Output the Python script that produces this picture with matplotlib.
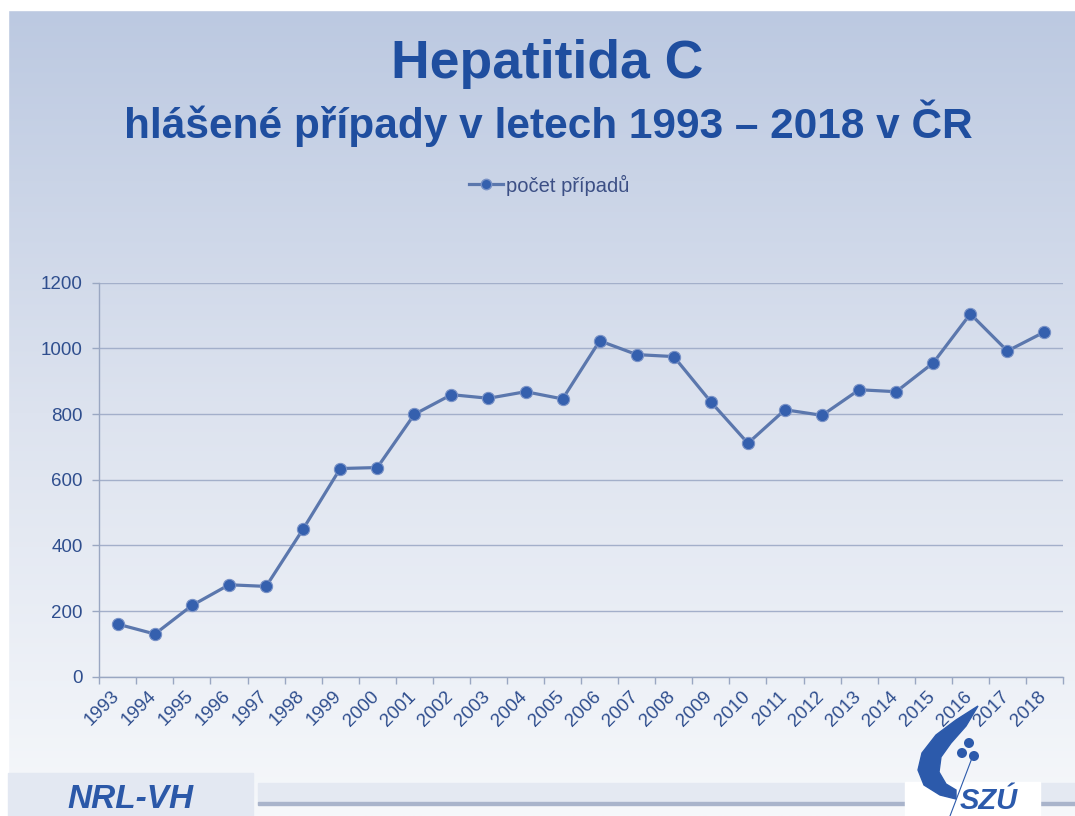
import numpy as np
import matplotlib
matplotlib.use("Agg")
import matplotlib.pyplot as plt
from matplotlib.patches import Rectangle, Polygon, Circle
from matplotlib.lines import Line2D
import matplotlib.transforms as mtransforms

years = [str(y) for y in range(1993, 2019)]
cases = [160, 130, 217, 280, 275, 450, 634, 637, 799, 859, 848, 868, 846,
         1023, 981, 975, 837, 711, 813, 796, 874, 868, 956, 1105, 992, 1050]
yticks = [0, 200, 400, 600, 800, 1000, 1200]
series_label = "počet případů"
title1 = "Hepatitida C"
title2 = "hlášené případy v letech 1993 – 2018 v ČR"

W, H = 1075, 816
plt.rcParams['font.family'] = ['Liberation Sans', 'DejaVu Sans']
fig = plt.figure(figsize=(W / 100, H / 100), dpi=100)

def fx(x):
    return x / W

def fy(y):
    return 1 - y / H

# background (pixel coordinates, y downward)
bg = fig.add_axes([0, 0, 1, 1], zorder=-10)
bg.set_axis_off()
top = np.array([0xbc, 0xc9, 0xe1]) / 255
mid = np.array([0xdd, 0xe3, 0xef]) / 255
bot = np.array([0xf6, 0xf8, 0xfb]) / 255
n = 400
t = np.linspace(0, 1, n)[:, None]
k = 0.5
grad = np.where(t < k, top + (mid - top) * (t / k), mid + (bot - mid) * ((t - k) / (1 - k)))
img = np.repeat(grad[:, None, :], 2, axis=1)
bg.imshow(img, aspect='auto', extent=[0, W, H, 10], origin='upper', zorder=0)
bg.set_xlim(0, W)
bg.set_ylim(H, 0)
bg.add_patch(Rectangle((0, 0), W, 10, color='white', zorder=2))
bg.add_patch(Rectangle((0, 0), 8, H, color='white', zorder=2))

# footer elements
bg.add_patch(Rectangle((8, 773), 245, H - 773, color='#e3e8f2', zorder=3))
bg.add_patch(Rectangle((258, 783), W - 258, 20, color='#e4e9f2', zorder=3))
bg.add_patch(Rectangle((258, 802), W - 258, 2.5, color='#a9b4cb', zorder=3))
bg.add_patch(Rectangle((905, 782), 135, H - 782, color='white', zorder=4))
bg.text(130, 800, "NRL-VH", ha='center', va='center', fontsize=24,
        fontweight='bold', fontstyle='italic', color='#2b58a8', zorder=6)

# logo
logo_col = '#2c5aab'
outer = [(978, 706), (956, 720), (936, 735), (922, 753), (918, 770), (924, 785), (940, 795), (956, 799)]
inner = [(956, 790), (946, 784), (939, 772), (941, 757), (951, 743), (966, 726)]
bg.add_patch(Polygon(outer + inner, closed=True, color=logo_col, zorder=5))
for cx, cy in [(969, 743), (962, 753), (974, 756)]:
    bg.add_patch(Circle((cx, cy), 4.3, color=logo_col, zorder=5))
bg.plot([972, 950], [758, 816], color=logo_col, lw=0.8, zorder=5)
bg.text(989, 801, "SZÚ", ha='center', va='center', fontsize=21,
        fontweight='bold', fontstyle='italic', color=logo_col, zorder=6)

# titles
title_col = '#1f4e9f'
fig.text(fx(547), fy(64), title1, ha='center', va='center', fontsize=38.5,
         fontweight='bold', color=title_col)
fig.text(fx(548), fy(123), title2, ha='center', va='center', fontsize=30.5,
         fontweight='bold', color=title_col)

# main axes
ax = fig.add_axes([fx(99.3), fy(676.7), fx(1063) - fx(99.3), fy(282.7) - fy(676.7)])
ax.patch.set_alpha(0)
x = np.arange(len(years))
line_col = '#5b77ad'
mk_col = '#3560ae'
ax.plot(x, cases, color=line_col, lw=2.3, marker='o', markersize=8.8,
        markerfacecolor=mk_col, markeredgecolor='#7891c6', markeredgewidth=0.8, zorder=3)
ax.set_xlim(-0.5, len(years) - 0.5)
ax.set_ylim(0, 1200)
ax.set_yticks(yticks)
ax.set_yticklabels([str(v) for v in yticks])
ax.yaxis.grid(True, color='#a3afca', lw=1.0)
ax.set_axisbelow(True)
for s in ['top', 'right']:
    ax.spines[s].set_visible(False)
for s in ['left', 'bottom']:
    ax.spines[s].set_color('#9aa7c2')
    ax.spines[s].set_linewidth(1.0)
lab_col = '#2f4e8e'
ax.tick_params(axis='y', length=5, width=1, color='#9aa7c2', pad=7, labelsize=13.5, labelcolor=lab_col)
ax.set_xticks(x)
ax.set_xticks(np.arange(len(years) + 1) - 0.5, minor=True)
ax.tick_params(axis='x', which='major', length=0, pad=8, labelsize=13.5, labelcolor=lab_col)
ax.tick_params(axis='x', which='minor', length=5, width=1, color='#9aa7c2')
ax.set_xticklabels(years, rotation=45, ha='right', va='top')
offset = mtransforms.ScaledTranslation(5 / 100, 0, fig.dpi_scale_trans)
for lbl in ax.get_xticklabels():
    lbl.set_transform(lbl.get_transform() + offset)

# legend
handle = Line2D([], [], color=line_col, lw=2.3, marker='o', markersize=7.5,
                markerfacecolor=mk_col, markeredgecolor='#7891c6')
leg = fig.legend([handle], [series_label], loc='center', bbox_to_anchor=(fx(549), fy(185)),
                 frameon=False, fontsize=14.5, handlelength=1.7, handletextpad=0.15)
for tx in leg.get_texts():
    tx.set_color('#3c4f85')

fig.savefig('out.png', dpi=100)
